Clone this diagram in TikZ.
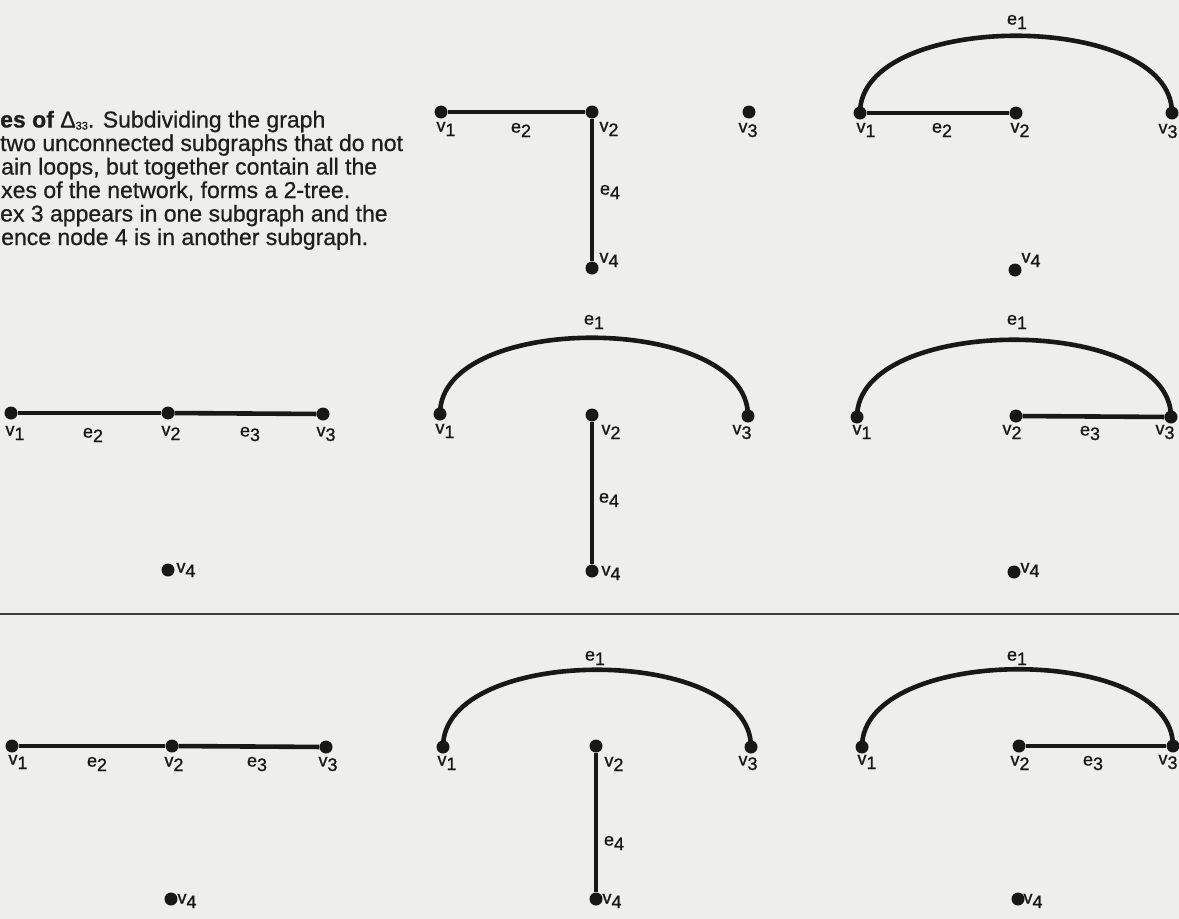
\documentclass[tikz,border=0pt]{standalone}
\usepackage{fontspec}
\setmainfont{Liberation Sans}
\newfontfamily\capfont[FakeBold=0.7]{Liberation Sans}
\newfontfamily\lblfont[FakeBold=0.9]{Liberation Sans}
\usetikzlibrary{calc}
\definecolor{paper}{RGB}{238,238,236}
\definecolor{ink}{RGB}{24,24,24}
\definecolor{txt}{RGB}{30,30,30}
\newcommand{\vlab}[2]{#1\raisebox{-4.5bp}{#2}}
\newcommand{\arcedge}[2]{\draw[edge] (#1.center) .. controls ($(#1.center)+(0,-103)$) and ($(#2.center)+(0,-103)$) .. (#2.center);}
\tikzset{
  vert/.style={circle,fill=ink,inner sep=0pt,minimum size=13bp},
  edge/.style={draw=ink,line width=4.6bp},
  lbl/.style={font=\lblfont\fontsize{18bp}{18bp}\selectfont,text=ink,inner sep=0pt},
  captxt/.style={font=\capfont\fontsize{23bp}{23.4bp}\selectfont,text=txt,anchor=base west,inner sep=0pt},
  sepline/.style={draw=ink!85,line width=2bp}
}
\begin{document}
\begin{tikzpicture}[x=1bp,y=-1bp]
\fill[paper] (0,0) rectangle (1179,919);
\useasboundingbox (0,0) rectangle (1179,919);
\clip (0,0) rectangle (1179,919);

% caption
\node[captxt] (t1) at (0,127.5) {\textbf{es of} Δ\raisebox{-2bp}{\fontsize{11bp}{11bp}\selectfont 33}. Subdividing the graph};
\node[captxt] (t2) at (0,151) {two unconnected subgraphs that do not};
\node[captxt] (t3) at (1,174.5) {ain loops, but together contain all the};
\node[captxt] (t4) at (1,198) {xes of the network, forms a 2-tree.};
\node[captxt] (t5) at (0,221.5) {ex 3 appears in one subgraph and the};
\node[captxt] (t6) at (1,245) {ence node 4 is in another subgraph.};

% Panel A
\node[vert] (A1) at (441,112) {};
\node[vert] (A2) at (592,112) {};
\node[vert] (A3) at (749,112) {};
\node[vert] (A4) at (592,268) {};
\draw[edge] (A1) -- (A2);
\draw[edge] (A2) -- (A4);
\node[lbl] (Al1) at (446,129) {\vlab{v}{1}};
\node[lbl] (Ale2) at (521,130) {\vlab{e}{2}};
\node[lbl] (Al2) at (609,129) {\vlab{v}{2}};
\node[lbl] (Al3) at (748,130) {\vlab{v}{3}};
\node[lbl] (Ale4) at (610,192) {\vlab{e}{4}};
\node[lbl] (Al4) at (609,260) {\vlab{v}{4}};

% Panel B
\node[vert] (B1) at (860,113) {};
\node[vert] (B2) at (1016,113) {};
\node[vert] (B3) at (1172,113) {};
\node[vert] (B4) at (1015,270) {};
\arcedge{B1}{B3}
\draw[edge] (B1) -- (B2);
\node[lbl] (Ble1) at (1017,22) {\vlab{e}{1}};
\node[lbl] (Bl1) at (866,130) {\vlab{v}{1}};
\node[lbl] (Ble2) at (942,130) {\vlab{e}{2}};
\node[lbl] (Bl2) at (1020,130) {\vlab{v}{2}};
\node[lbl] (Bl3) at (1168,131) {\vlab{v}{3}};
\node[lbl] (Bl4) at (1031,260) {\vlab{v}{4}};

% Panel C
\node[vert] (C1) at (11,413) {};
\node[vert] (C2) at (168,413) {};
\node[vert] (C3) at (323,414) {};
\node[vert] (C4) at (168,570) {};
\draw[edge] (C1) -- (C2);
\draw[edge] (C2) -- (C3);
\node[lbl] (Cl1) at (15,433) {\vlab{v}{1}};
\node[lbl] (Cle2) at (93,435) {\vlab{e}{2}};
\node[lbl] (Cl2) at (171,433) {\vlab{v}{2}};
\node[lbl] (Cle3) at (250,434) {\vlab{e}{3}};
\node[lbl] (Cl3) at (326,434) {\vlab{v}{3}};
\node[lbl] (Cl4) at (186,570) {\vlab{v}{4}};

% Panel D
\node[vert] (D1) at (440,414) {};
\node[vert] (D2) at (592,415) {};
\node[vert] (D3) at (748,416) {};
\node[vert] (D4) at (592,571) {};
\arcedge{D1}{D3}
\draw[edge] (D2) -- (D4);
\node[lbl] (Dle1) at (594,322) {\vlab{e}{1}};
\node[lbl] (Dl1) at (445,431) {\vlab{v}{1}};
\node[lbl] (Dl2) at (611,432) {\vlab{v}{2}};
\node[lbl] (Dl3) at (742,432) {\vlab{v}{3}};
\node[lbl] (Dle4) at (609,500) {\vlab{e}{4}};
\node[lbl] (Dl4) at (611,573) {\vlab{v}{4}};

% Panel E
\node[vert] (E1) at (857,417) {};
\node[vert] (E2) at (1016,416) {};
\node[vert] (E3) at (1171,417) {};
\node[vert] (E4) at (1014,572) {};
\arcedge{E1}{E3}
\draw[edge] (E2) -- (E3);
\node[lbl] (Ele1) at (1017,322) {\vlab{e}{1}};
\node[lbl] (El1) at (862,432) {\vlab{v}{1}};
\node[lbl] (El2) at (1012,432) {\vlab{v}{2}};
\node[lbl] (Ele3) at (1090,433) {\vlab{e}{3}};
\node[lbl] (El3) at (1165,432) {\vlab{v}{3}};
\node[lbl] (El4) at (1030,570) {\vlab{v}{4}};

% separator
\coordinate (sepL) at (0,614);
\coordinate (sepR) at (1179,614);
\draw[sepline] (sepL) -- (sepR);

% Panel F
\node[vert] (F1) at (12,746) {};
\node[vert] (F2) at (172,746) {};
\node[vert] (F3) at (326,747) {};
\node[vert] (F4) at (171,899) {};
\draw[edge] (F1) -- (F2);
\draw[edge] (F2) -- (F3);
\node[lbl] (Fl1) at (18,762) {\vlab{v}{1}};
\node[lbl] (Fle2) at (97,764) {\vlab{e}{2}};
\node[lbl] (Fl2) at (174,764) {\vlab{v}{2}};
\node[lbl] (Fle3) at (257,764) {\vlab{e}{3}};
\node[lbl] (Fl3) at (328,764) {\vlab{v}{3}};
\node[lbl] (Fl4) at (187,901) {\vlab{v}{4}};

% Panel G
\node[vert] (G1) at (443,747) {};
\node[vert] (G2) at (596,746) {};
\node[vert] (G3) at (751,747) {};
\node[vert] (G4) at (596,899) {};
\arcedge{G1}{G3}
\draw[edge] (G2) -- (G4);
\node[lbl] (Gle1) at (595,658) {\vlab{e}{1}};
\node[lbl] (Gl1) at (447,763) {\vlab{v}{1}};
\node[lbl] (Gl2) at (614,764) {\vlab{v}{2}};
\node[lbl] (Gl3) at (748,763) {\vlab{v}{3}};
\node[lbl] (Gle4) at (614,843) {\vlab{e}{4}};
\node[lbl] (Gl4) at (612,901) {\vlab{v}{4}};

% Panel H
\node[vert] (H1) at (862,747) {};
\node[vert] (H2) at (1019,746) {};
\node[vert] (H3) at (1173,746) {};
\node[vert] (H4) at (1018,899) {};
\arcedge{H1}{H3}
\draw[edge] (H2) -- (H3);
\node[lbl] (Hle1) at (1017,658) {\vlab{e}{1}};
\node[lbl] (Hl1) at (867,762) {\vlab{v}{1}};
\node[lbl] (Hl2) at (1020,763) {\vlab{v}{2}};
\node[lbl] (Hle3) at (1093,763) {\vlab{e}{3}};
\node[lbl] (Hl3) at (1168,762) {\vlab{v}{3}};
\node[lbl] (Hl4) at (1033,901) {\vlab{v}{4}};
\end{tikzpicture}
\end{document}
